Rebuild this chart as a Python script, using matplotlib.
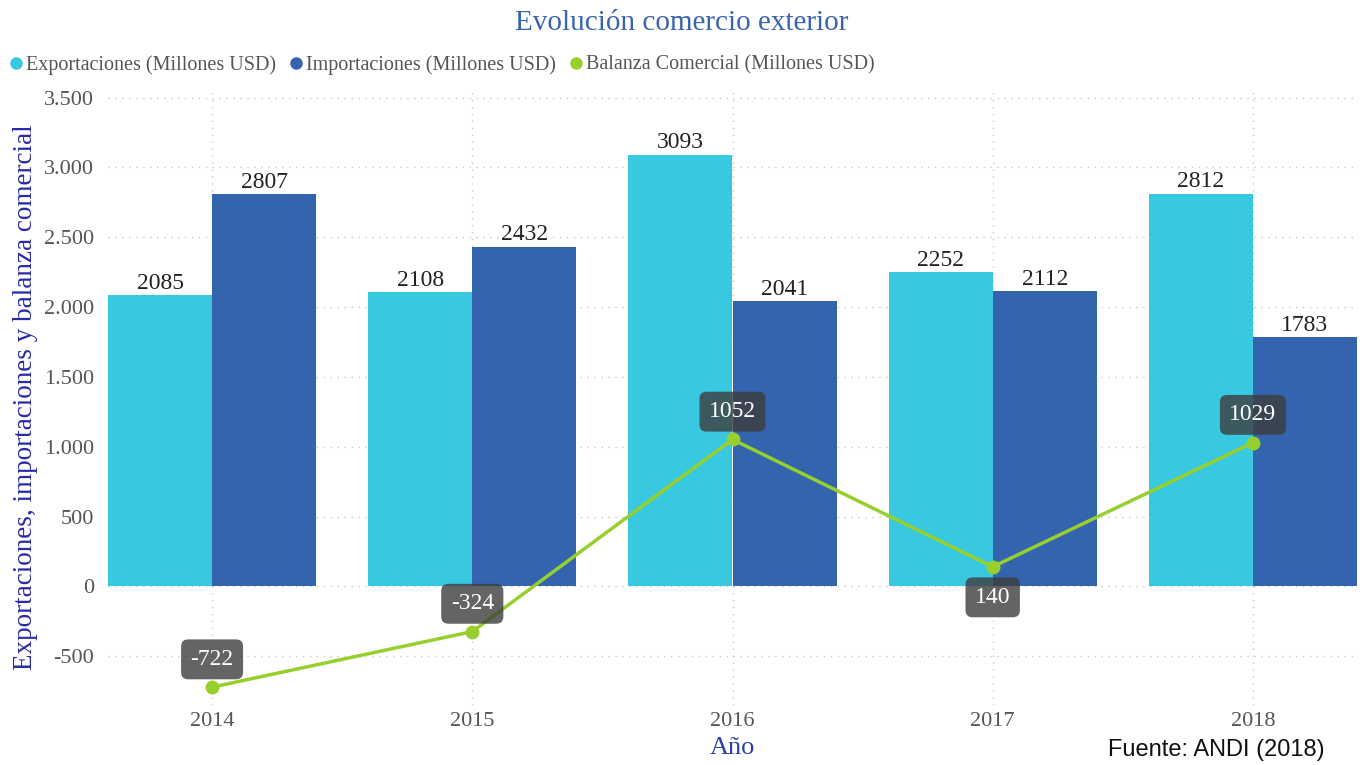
import matplotlib.pyplot as plt
import numpy as np

# Datos
anios = ["2014", "2015", "2016", "2017", "2018"]
exportaciones = [2085, 2108, 3093, 2252, 2812]
importaciones = [2807, 2432, 2041, 2112, 1783]
balanza = [-722, -324, 1052, 140, 1029]
etiquetas_y = ["-500", "0", "500", "1.000", "1.500", "2.000", "2.500", "3.000", "3.500"]
valores_y = [-500, 0, 500, 1000, 1500, 2000, 2500, 3000, 3500]

c_exp = "#38c9e1"
c_imp = "#3564ae"
c_bal = "#97d02e"
c_txt = "#555555"

plt.rcParams['font.family'] = ['Liberation Serif', 'DejaVu Serif']

fig = plt.figure(figsize=(13.64, 7.65), dpi=100)
ax = fig.add_axes([108 / 1364, 1 - 705 / 765, (1357 - 108) / 1364, (705 - 90) / 765])

x = np.arange(len(anios))
w = 0.4

ax.bar(x - w / 2, exportaciones, w, color=c_exp, zorder=2)
ax.bar(x + w / 2, importaciones, w, color=c_imp, zorder=2)
ax.plot(x, balanza, color=c_bal, lw=2.5, marker="o", ms=9, zorder=3)

# etiquetas de barras
for i in range(len(anios)):
    ax.annotate(str(exportaciones[i]), (x[i] - w / 2, exportaciones[i]), xytext=(0, 1),
                textcoords="offset points", ha="center", va="bottom", fontsize=17, color="#222222")
    ax.annotate(str(importaciones[i]), (x[i] + w / 2, importaciones[i]), xytext=(0, 1),
                textcoords="offset points", ha="center", va="bottom", fontsize=17, color="#222222")

# etiquetas de la balanza
caja = dict(boxstyle="round,pad=0.4,rounding_size=0.3", fc="#3d3d3d", ec="none", alpha=0.8)
for i in range(len(anios)):
    dy = -22 if i == 3 else 20
    ax.annotate(str(balanza[i]), (x[i], balanza[i]), xytext=(0, dy), textcoords="offset points",
                ha="center", va="center", fontsize=17, color="white", bbox=caja, zorder=4)

ax.set_xlim(-0.4, 4.4)
ax.set_ylim(-850, 3555)
ax.set_xticks(x)
ax.set_xticklabels(anios, fontsize=16, color=c_txt)
ax.set_yticks(valores_y)
ax.set_yticklabels(etiquetas_y, fontsize=16, color=c_txt)
ax.tick_params(length=0)
ax.tick_params(axis="x", pad=5)
ax.tick_params(axis="y", pad=10)

ax.grid(True, color="#c8c8c8", linestyle=(0, (1, 4)), lw=1, zorder=0)
for s in ax.spines.values():
    s.set_visible(False)

ax.set_xlabel("Año", fontsize=19, color="#2a3fae", labelpad=4)
ax.set_ylabel("Exportaciones, importaciones y balanza comercial", fontsize=19.5, color="#2a2aa8", labelpad=4)

fig.text(0.5, 1 - 23 / 765, "Evolución comercio exterior", ha="center", va="center",
         fontsize=21, color="#3a64b0")

# leyenda
items = [("Exportaciones (Millones USD)", c_exp), ("Importaciones (Millones USD)", c_imp),
         ("Balanza Comercial (Millones USD)", c_bal)]
handles = [plt.Line2D([], [], ls="none", marker="o", ms=8, color=c) for _, c in items]
fig.legend(handles, [t for t, _ in items], loc="center left", bbox_to_anchor=(0.0, 1 - 65 / 765),
           ncol=3, frameon=False, fontsize=14.5, handletextpad=0.1, columnspacing=0.6,
           handlelength=0.8, borderaxespad=0, labelcolor=c_txt)

fig.text(1108 / 1364, 4 / 765, "Fuente: ANDI (2018)", fontsize=17, family="Liberation Sans",
         color="#111111", va="bottom")

fig.savefig("out.png", dpi=100)
